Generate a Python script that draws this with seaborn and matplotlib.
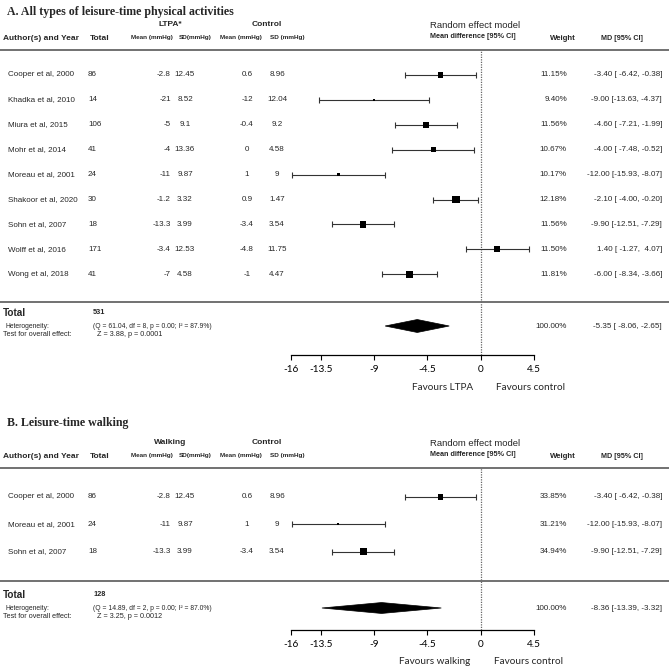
import numpy as np
import matplotlib
matplotlib.use("Agg")
import matplotlib.pyplot as plt
import seaborn as sns
from matplotlib.lines import Line2D

# ---- data: panel A (all LTPA) ----
a_names = ["Cooper et al, 2000", "Khadka et al, 2010", "Miura et al, 2015", "Mohr et al, 2014",
           "Moreau et al, 2001", "Shakoor et al, 2020", "Sohn et al, 2007", "Wolff et al, 2016",
           "Wong et al, 2018"]
a_total = [86, 14, 106, 41, 24, 30, 18, 171, 41]
a_mean_t = [-2.8, -21, -5, -4, -11, -1.2, -13.3, -3.4, -7]
a_sd_t = [12.45, 8.52, 9.1, 13.36, 9.87, 3.32, 3.99, 12.53, 4.58]
a_mean_c = [0.6, -12, -0.4, 0, 1, 0.9, -3.4, -4.8, -1]
a_sd_c = [8.96, 12.04, 9.2, 4.58, 9, 1.47, 3.54, 11.75, 4.47]
a_weight = [11.15, 9.40, 11.56, 10.67, 10.17, 12.18, 11.56, 11.50, 11.81]
a_md = [-3.40, -9.00, -4.60, -4.00, -12.00, -2.10, -9.90, 1.40, -6.00]
a_lo = [-6.42, -13.63, -7.21, -7.48, -15.93, -4.00, -12.51, -1.27, -8.34]
a_hi = [-0.38, -4.37, -1.99, -0.52, -8.07, -0.20, -7.29, 4.07, -3.66]
a_pooled = (-5.35, -8.06, -2.65)
a_n = 531
a_het = "(Q = 61.04, df = 8, p = 0.00; I² = 87.9%)"
a_z = "Z = 3.88, p = 0.0001"

# ---- data: panel B (walking) ----
b_names = ["Cooper et al, 2000", "Moreau et al, 2001", "Sohn et al, 2007"]
b_total = [86, 24, 18]
b_mean_t = [-2.8, -11, -13.3]
b_sd_t = [12.45, 9.87, 3.99]
b_mean_c = [0.6, 1, -3.4]
b_sd_c = [8.96, 9, 3.54]
b_weight = [33.85, 31.21, 34.94]
b_md = [-3.40, -12.00, -9.90]
b_lo = [-6.42, -15.93, -12.51]
b_hi = [-0.38, -8.07, -7.29]
b_pooled = (-8.36, -13.39, -3.32)
b_n = 128
b_het = "(Q = 14.89, df = 2, p = 0.00; I² = 87.0%)"
b_z = "Z = 3.25, p = 0.0012"

ticks = [-16, -13.5, -9, -4.5, 0, 4.5]
tick_labels = ["-16", "-13.5", "-9", "-4.5", "0", "4.5"]

sns.set_theme(style="white")
plt.rcParams["font.family"] = ["Liberation Sans", "DejaVu Sans"]

W = H = 669
fig = plt.figure(figsize=(6.69, 6.69), dpi=100)


def fx(px):
    return px / W


def fy(py):
    return 1 - py / H


def txt(x, y, s, size=5.8, ha="left", weight="normal", **kw):
    fig.text(fx(x), fy(y), s, fontsize=size, ha=ha, va="center", fontweight=weight, **kw)


def hline(y):
    fig.add_artist(Line2D([0, 1], [fy(y), fy(y)], color="#666666", lw=1.3, transform=fig.transFigure))


def panel(title, group, favours, names, total, mt, st, mc, sc, weight, md, lo, hi, pooled, n, het, z,
          title_y, top, row0, step, line2, tot_y, axis_y, smin, smax, diam_h):
    # header
    txt(7, title_y, title, size=8.6, weight="bold", family="Liberation Serif")
    txt(170, top - 25, group, size=6, ha="center", weight="bold")
    txt(267, top - 25, "Control", size=6, ha="center", weight="bold")
    txt(3, top - 12, "Author(s) and Year", size=6, weight="bold")
    txt(100, top - 11, "Total", size=6, ha="center", weight="bold")
    for x, s in [(152, "Mean (mmHg)"), (195, "SD(mmHg)"), (241, "Mean (mmHg)"), (287, "SD (mmHg)")]:
        txt(x, top - 12, s, size=4.6, ha="center", weight="bold")
    txt(430, top - 24, "Random effect model", size=6.8)
    txt(430, top - 13, "Mean difference [95% CI]", size=5.2, weight="bold")
    txt(563, top - 11, "Weight", size=5.6, ha="center", weight="bold")
    txt(622, top - 11, "MD [95% CI]", size=5.2, ha="center", weight="bold")
    hline(top)
    hline(line2)

    # study rows
    for i in range(len(names)):
        y = row0 + step * i
        txt(8, y, names[i])
        txt(88, y, str(total[i]))
        txt(171, y, f"{mt[i]:g}", ha="right")
        txt(185, y, f"{st[i]:g}", ha="center")
        txt(247, y, f"{mc[i]:g}", ha="center")
        txt(277, y, f"{sc[i]:g}", ha="center")
        txt(567, y, f"{weight[i]:.2f}%", ha="right")
        txt(662, y, f"{md[i]:.2f} [{lo[i]:6.2f}, {hi[i]:5.2f}]", ha="right")

    # totals
    txt(3, tot_y - 13, "Total", size=7.2, weight="bold")
    txt(93, tot_y - 14, str(n), size=5.3, weight="bold")
    txt(6, tot_y, "Heterogeneity:", size=4.9)
    txt(93, tot_y, het, size=4.9)
    txt(3, tot_y + 9, "Test for overall effect:", size=5.2)
    txt(97, tot_y + 9, z, size=5.2)
    txt(567, tot_y, "100.00%", ha="right")
    txt(662, tot_y, f"{pooled[0]:.2f} [{pooled[1]:6.2f}, {pooled[2]:5.2f}]", ha="right")

    # forest axes: x pixel 291 -> -16, 534 -> 4.5 ; rows mapped by index
    ax = fig.add_axes([fx(291), fy(axis_y), fx(534) - fx(291), (axis_y - top) / H])
    ax.set_xlim(-16, 4.5)
    ax.set_ylim((axis_y - row0) / step, (top - row0) / step)
    ax.patch.set_alpha(0)
    rows = np.arange(len(names))
    md_a, lo_a, hi_a, w_a = map(np.asarray, (md, lo, hi, weight))
    ax.errorbar(md_a, rows, xerr=[md_a - lo_a, hi_a - md_a], fmt="none", ecolor="#333333",
                elinewidth=0.8, capsize=2, capthick=0.8, zorder=2)
    side_px = smin + (w_a - w_a.min()) / (w_a.max() - w_a.min()) * (smax - smin)
    sns.scatterplot(x=md_a, y=rows, marker="s", color="black", s=(side_px * 72 / 100) ** 2,
                    linewidth=0, ax=ax, legend=False, zorder=3)
    dy = (tot_y - row0) / step
    ax.fill([pooled[1], pooled[0], pooled[2], pooled[0]],
            [dy, dy - diam_h, dy, dy + diam_h], color="black", lw=0.5, zorder=3)
    ax.axvline(0, color="#666666", lw=0.9, ls=(0, (1, 1)), zorder=1)
    for s in ["top", "right", "left"]:
        ax.spines[s].set_visible(False)
    ax.spines["bottom"].set_color("black")
    ax.spines["bottom"].set_linewidth(0.9)
    ax.set_yticks([])
    ax.set_xticks(ticks)
    ax.set_xticklabels(tick_labels, family="Lato")
    ax.tick_params(axis="x", bottom=True, direction="out", length=3.5, width=0.8, labelsize=7.2,
                   pad=3.5, colors="black")
    ax.set_xlabel("")
    ax.set_ylabel("")
    fy_fav = axis_y + 32
    txt(favours[0][0], fy_fav, favours[0][1], size=7.2, ha="center", family="Lato")
    txt(favours[1][0], fy_fav, favours[1][1], size=7.2, ha="center", family="Lato")


panel("A. All types of leisure-time physical activities", "LTPA*",
      [(443, "Favours LTPA"), (530, "Favours control")],
      a_names, a_total, a_mean_t, a_sd_t, a_mean_c, a_sd_c, a_weight, a_md, a_lo, a_hi,
      a_pooled, a_n, a_het, a_z,
      title_y=12, top=50, row0=75, step=24.9, line2=302, tot_y=326, axis_y=355,
      smin=2, smax=7.5, diam_h=0.26)

panel("B. Leisure-time walking", "Walking",
      [(435, "Favours walking"), (528, "Favours control")],
      b_names, b_total, b_mean_t, b_sd_t, b_mean_c, b_sd_c, b_weight, b_md, b_lo, b_hi,
      b_pooled, b_n, b_het, b_z,
      title_y=423, top=468, row0=497, step=27.3, line2=581, tot_y=608, axis_y=630,
      smin=2, smax=7, diam_h=0.2)

fig.savefig("out.png", dpi=100, facecolor="white")
